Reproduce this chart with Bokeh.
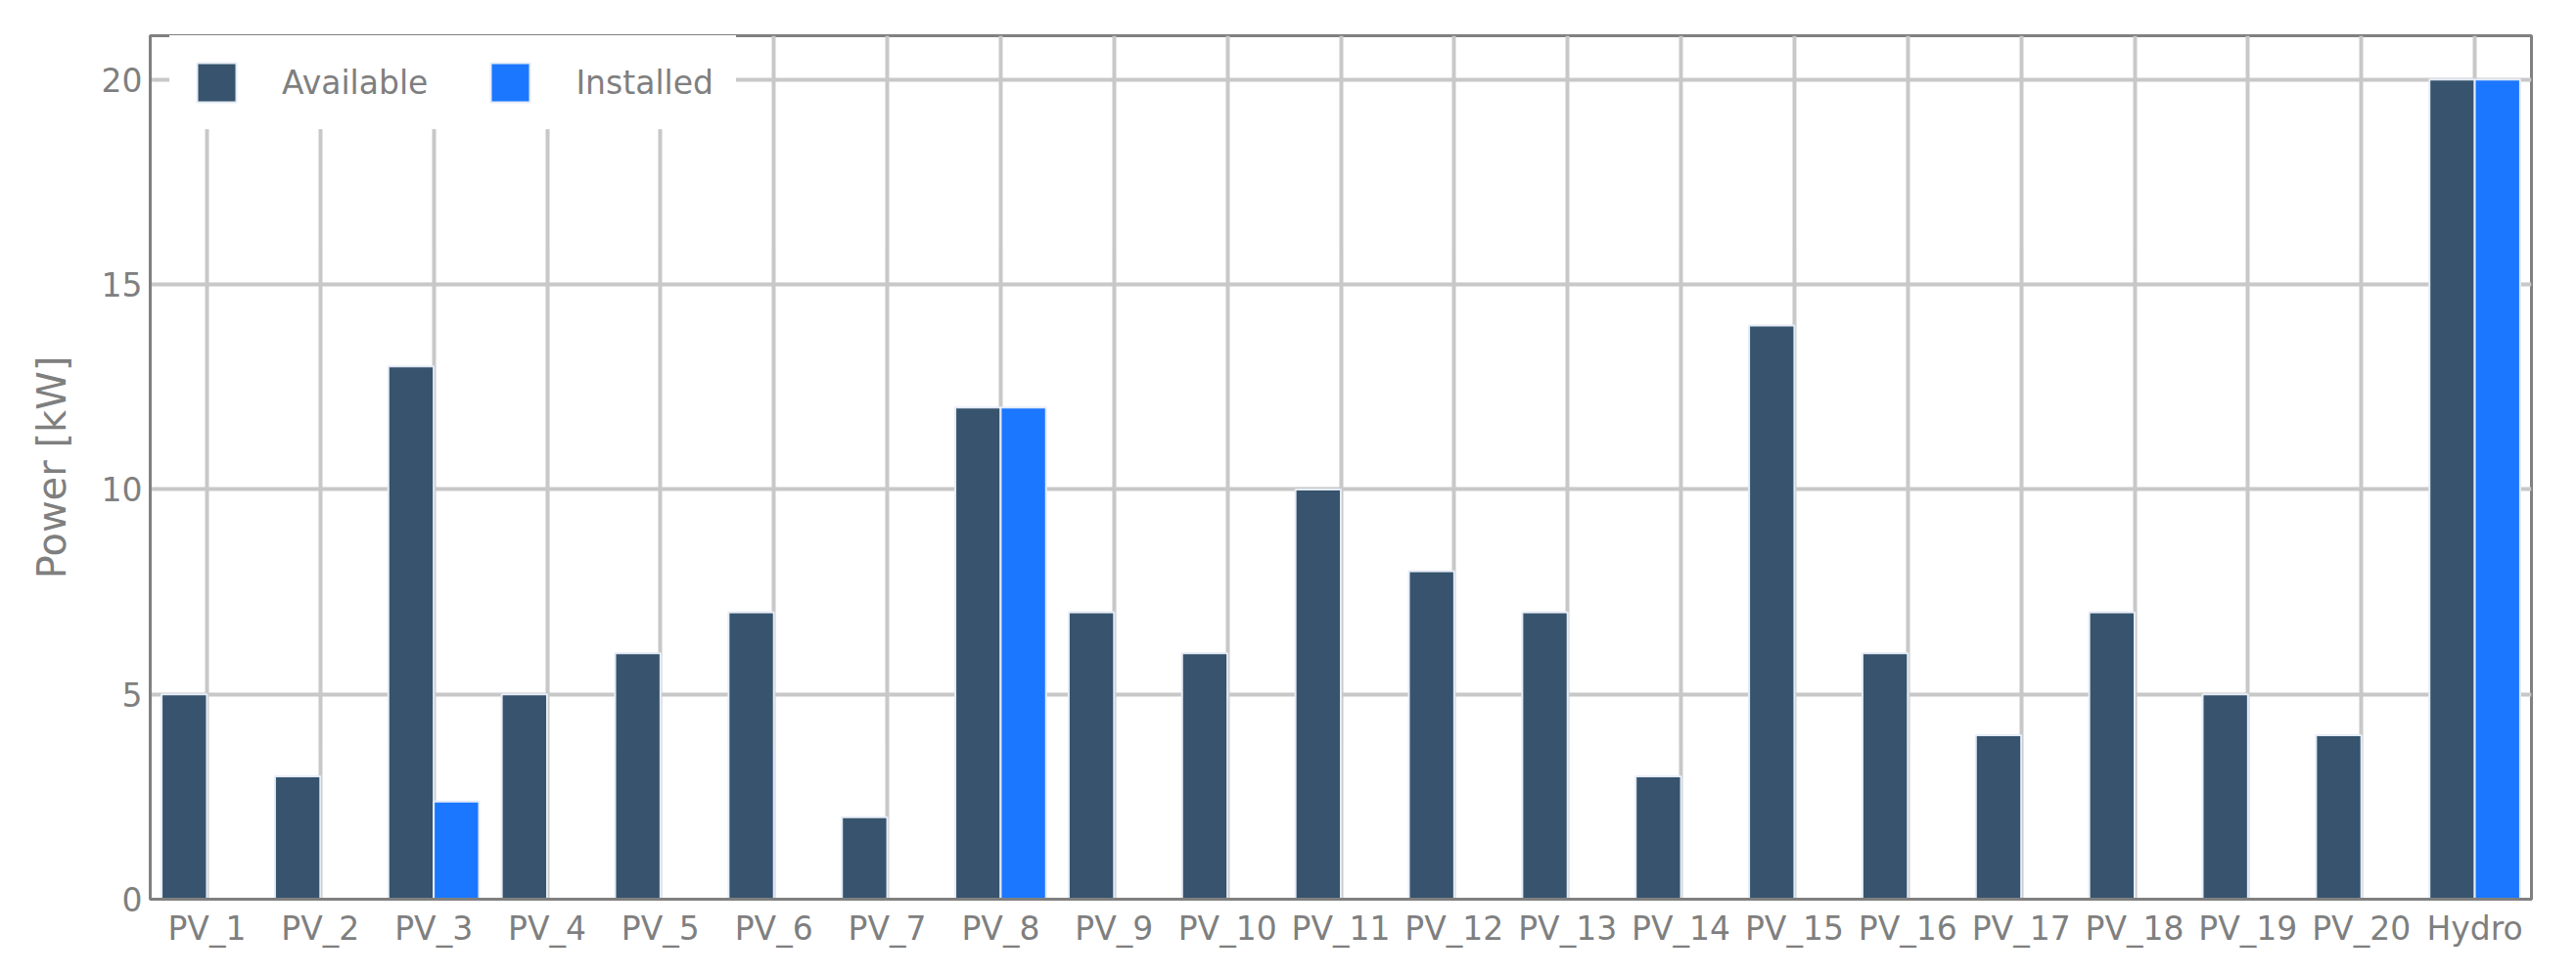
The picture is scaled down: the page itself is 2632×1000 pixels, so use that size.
from bokeh.plotting import figure
from bokeh.models import (FactorRange, Range1d, FixedTicker, Legend, LegendItem,
                          ColumnDataSource)
from bokeh.transform import dodge
from bokeh.embed import file_html
from bokeh.resources import INLINE

units = ["PV_1", "PV_2", "PV_3", "PV_4", "PV_5", "PV_6", "PV_7", "PV_8", "PV_9", "PV_10",
         "PV_11", "PV_12", "PV_13", "PV_14", "PV_15", "PV_16", "PV_17", "PV_18", "PV_19",
         "PV_20", "Hydro"]
available = [5, 3, 13, 5, 6, 7, 2, 12, 7, 6, 10, 8, 7, 3, 14, 6, 4, 7, 5, 4, 20]
installed = [0, 0, 2.38, 0, 0, 0, 0, 12, 0, 0, 0, 0, 0, 0, 0, 0, 0, 0, 0, 0, 20]
y_ticks = [0, 5, 10, 15, 20]
series_names = ["Available", "Installed"]

DARK = "#37536d"
BLUE = "#1b77ff"
OUTLINE = "#e5ecf6"
TEXT = "#7f7f7f"
AXIS = "#808080"
GRID = "#c8c8c8"
FONT = "DejaVu Sans"

src = ColumnDataSource(dict(unit=units, available=available, installed=installed))

W, H = 2616, 984
MB_L, MB_T, MB_R, MB_B = 153, 36, 30, 66

p = figure(x_range=FactorRange(*units), y_range=Range1d(0, 21.07),
           width=W, height=H, output_backend="svg", toolbar_location=None,
           min_border_left=MB_L, min_border_top=MB_T, min_border_right=MB_R,
           min_border_bottom=MB_B)
p.x_range.range_padding = 0

r1 = p.vbar(x=dodge("unit", -0.2, range=p.x_range), top="available", width=0.4,
            source=src, fill_color=DARK, line_color=OUTLINE, line_width=2)
r2 = p.vbar(x=dodge("unit", 0.2, range=p.x_range), top="installed", width=0.4,
            source=src, fill_color=BLUE, line_color=OUTLINE, line_width=2)

p.background_fill_color = "white"
p.border_fill_color = "white"
p.outline_line_color = AXIS
p.outline_line_width = 3

for ax in (p.xaxis[0], p.yaxis[0]):
    ax.axis_line_color = AXIS
    ax.axis_line_width = 3
    ax.major_tick_line_color = None
    ax.minor_tick_line_color = None
    ax.major_tick_out = 0
    ax.major_tick_in = 0
    ax.minor_tick_out = 0
    ax.minor_tick_in = 0
    ax.major_label_text_font = FONT
    ax.major_label_text_font_size = "33px"
    ax.major_label_text_color = TEXT

p.xaxis.major_label_standoff = 10
p.yaxis.major_label_standoff = 8

p.yaxis.ticker = FixedTicker(ticks=y_ticks)
p.yaxis.axis_label = "Power [kW]"
p.yaxis.axis_label_text_font = FONT
p.yaxis.axis_label_text_font_size = "40px"
p.yaxis.axis_label_text_font_style = "normal"
p.yaxis.axis_label_text_color = TEXT
p.yaxis.axis_label_standoff = 25

p.xgrid.grid_line_color = GRID
p.xgrid.grid_line_width = 4
p.ygrid.grid_line_color = GRID
p.ygrid.grid_line_width = 4

frame_h = H - MB_T - MB_B
PAD = 23
GLYPH = 50
legend_h = GLYPH + 2 * PAD
legend = Legend(items=[LegendItem(label=series_names[0], renderers=[r1]),
                       LegendItem(label=series_names[1], renderers=[r2])],
                location=(20, frame_h - legend_h), orientation="horizontal",
                glyph_width=GLYPH, glyph_height=GLYPH, label_height=GLYPH,
                label_standoff=42, spacing=59, padding=PAD, margin=0,
                label_text_font=FONT, label_text_font_size="33px",
                label_text_color=TEXT, border_line_color="white",
                border_line_alpha=0.0,
                background_fill_color="white", background_fill_alpha=1.0)
p.add_layout(legend)

open("out.html", "w").write(file_html(p, INLINE))
